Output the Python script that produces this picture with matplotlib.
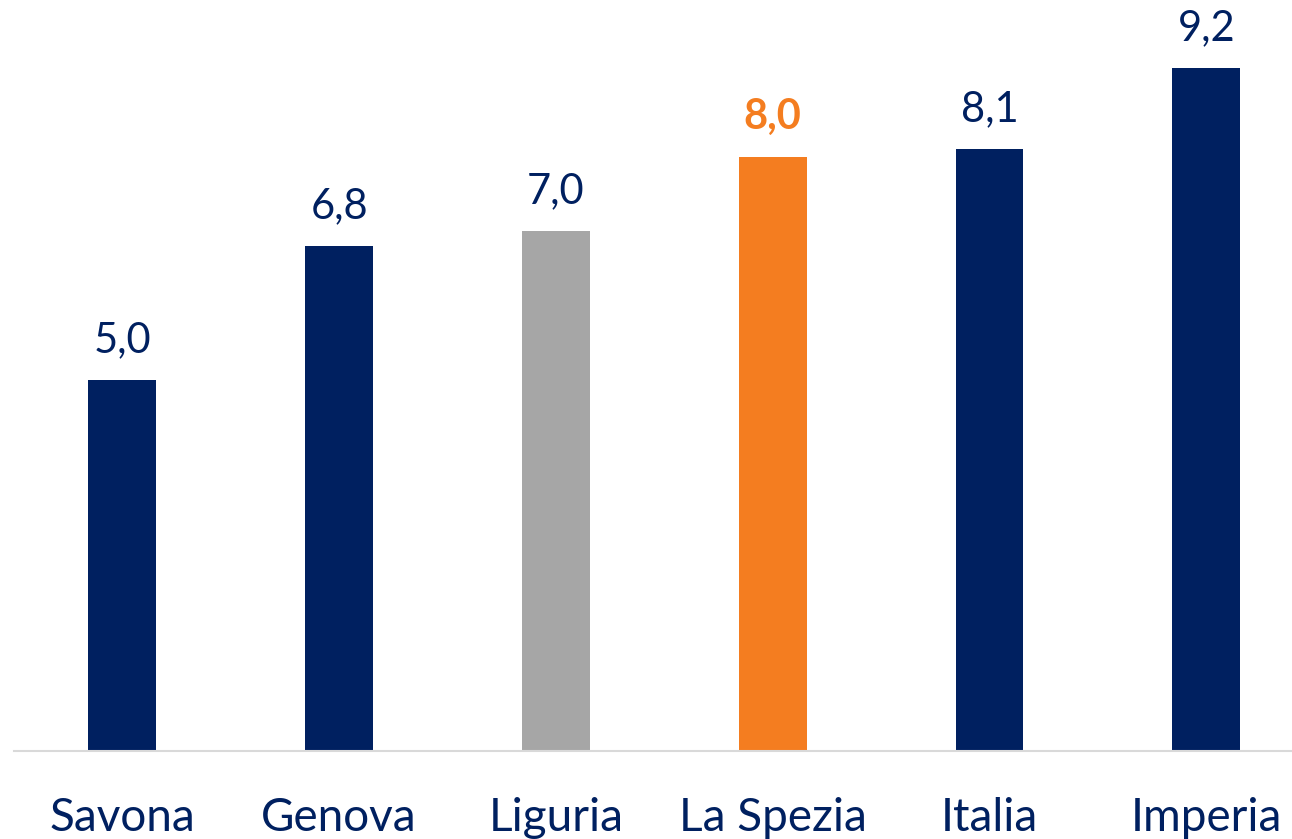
import matplotlib
matplotlib.use("Agg")
import matplotlib.pyplot as plt

categories = ["Savona", "Genova", "Liguria", "La Spezia", "Italia", "Imperia"]
values = [5.0, 6.8, 7.0, 8.0, 8.1, 9.2]
labels = ["5,0", "6,8", "7,0", "8,0", "8,1", "9,2"]

navy = "#002060"
gray = "#A6A6A6"
orange = "#F47D20"
colors = [navy, navy, gray, orange, navy, navy]

plt.rcParams["font.family"] = ["Lato", "DejaVu Sans"]

fig = plt.figure(figsize=(12.92, 8.39), dpi=100)
ax = fig.add_axes([0.0108, 0.1043, 0.9892, 0.886])

x = range(len(categories))
ax.bar(x, values, width=0.313, color=colors, zorder=2)

for i, (v, lab) in enumerate(zip(values, labels)):
    hl = i == 3
    ax.text(i, v + 0.28, lab, ha="center", va="bottom", fontsize=30,
            color=orange if hl else navy, fontweight="bold" if hl else "normal")

ax.set_xlim(-0.5, 5.395)
ax.set_ylim(0, 10)
ax.set_xticks(list(x))
ax.set_xticklabels(categories, fontsize=33, color=navy)
ax.tick_params(axis="x", length=0, pad=33)
ax.set_yticks([])
for s in ["top", "right", "left"]:
    ax.spines[s].set_visible(False)
ax.spines["bottom"].set_color("#D9D9D9")
ax.spines["bottom"].set_linewidth(1.5)

fig.savefig("out.png", dpi=100)
